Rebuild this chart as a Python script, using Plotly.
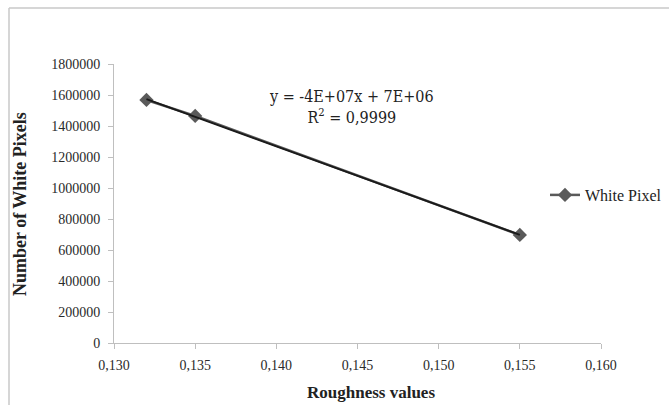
import numpy as np
import plotly.graph_objects as go

roughness = [0.132, 0.135, 0.155]
white_pixels = [1568000, 1465000, 697000]
x_ticks = [0.130, 0.135, 0.140, 0.145, 0.150, 0.155, 0.160]
x_tick_labels = ["0,130", "0,135", "0,140", "0,145", "0,150", "0,155", "0,160"]
y_ticks = list(range(0, 1800001, 200000))
y_tick_labels = [str(v) for v in y_ticks]

W, H = 669, 405
L, R, T, B = 114, 68, 64, 62
pw, ph = W - L - R, H - T - B

def px(xp):
    return (xp - L) / pw

def py(yp):
    return (H - B - yp) / ph

# linear trendline (fitted from the data)
coef = np.polyfit(roughness, white_pixels, 1)
tx = [min(roughness), max(roughness)]
ty = [coef[0] * v + coef[1] for v in tx]

fig = go.Figure()
fig.add_trace(go.Scatter(
    x=roughness, y=white_pixels, mode="lines+markers", name="White Pixel",
    line=dict(color="#5a5a5a", width=2.5),
    marker=dict(symbol="diamond", size=11, color="#5a5a5a"),
))
fig.add_trace(go.Scatter(
    x=tx, y=ty, mode="lines", showlegend=False,
    line=dict(color="#1a1a1a", width=2),
))

serif = "Liberation Serif"
fig.update_layout(
    width=W, height=H,
    margin=dict(l=L, r=R, t=T, b=B, autoexpand=False),
    paper_bgcolor="white", plot_bgcolor="white",
    font=dict(family=serif, color="#222222"),
    showlegend=True,
    legend=dict(x=px(545), y=py(195), xanchor="left", yanchor="middle",
                font=dict(family=serif, size=16, color="#222222"),
                bgcolor="rgba(0,0,0,0)", itemwidth=30),
    xaxis=dict(range=[0.130, 0.160], tickvals=x_ticks, ticktext=x_tick_labels,
               showgrid=False, zeroline=False, showline=True, linecolor="#bfbfbf",
               linewidth=1, ticks="outside", ticklen=5, tickcolor="#bfbfbf",
               ticklabelstandoff=4,
               tickfont=dict(family=serif, size=14, color="#2a2a2a")),
    yaxis=dict(range=[0, 1800000], tickvals=y_ticks, ticktext=y_tick_labels,
               showgrid=False, zeroline=False, showline=True, linecolor="#bfbfbf",
               linewidth=1, ticks="outside", ticklen=5, tickcolor="#bfbfbf",
               ticklabelstandoff=5,
               tickfont=dict(family=serif, size=14, color="#2a2a2a")),
    annotations=[
        dict(text="y = -4E+07x + 7E+06<br>R<sup>2</sup> = 0,9999", xref="paper", yref="paper",
             x=px(351), y=py(107), xanchor="center", yanchor="middle", showarrow=False,
             font=dict(family="DejaVu Serif Condensed, Liberation Serif", size=16, color="#222222")),
        dict(text="<b>Roughness values</b>", xref="paper", yref="paper",
             x=px(371), y=py(392), xanchor="center", yanchor="middle", showarrow=False,
             font=dict(family=serif, size=17, color="#222222")),
        dict(text="<b>Number of White Pixels</b>", xref="paper", yref="paper",
             x=px(20), y=py(204), xanchor="center", yanchor="middle", showarrow=False,
             textangle=-90, font=dict(family=serif, size=18, color="#222222")),
    ],
    shapes=[
        dict(type="line", xref="paper", yref="paper", x0=px(9), x1=px(700), y0=py(8), y1=py(8),
             line=dict(color="#c8c8c8", width=1.5)),
        dict(type="line", xref="paper", yref="paper", x0=px(9), x1=px(9), y0=py(8), y1=py(430),
             line=dict(color="#c8c8c8", width=1.5)),
    ],
)

fig.write_html("out.html", config={"displayModeBar": False},
               post_script="document.body.style.margin='0';document.body.style.overflow='hidden';")
